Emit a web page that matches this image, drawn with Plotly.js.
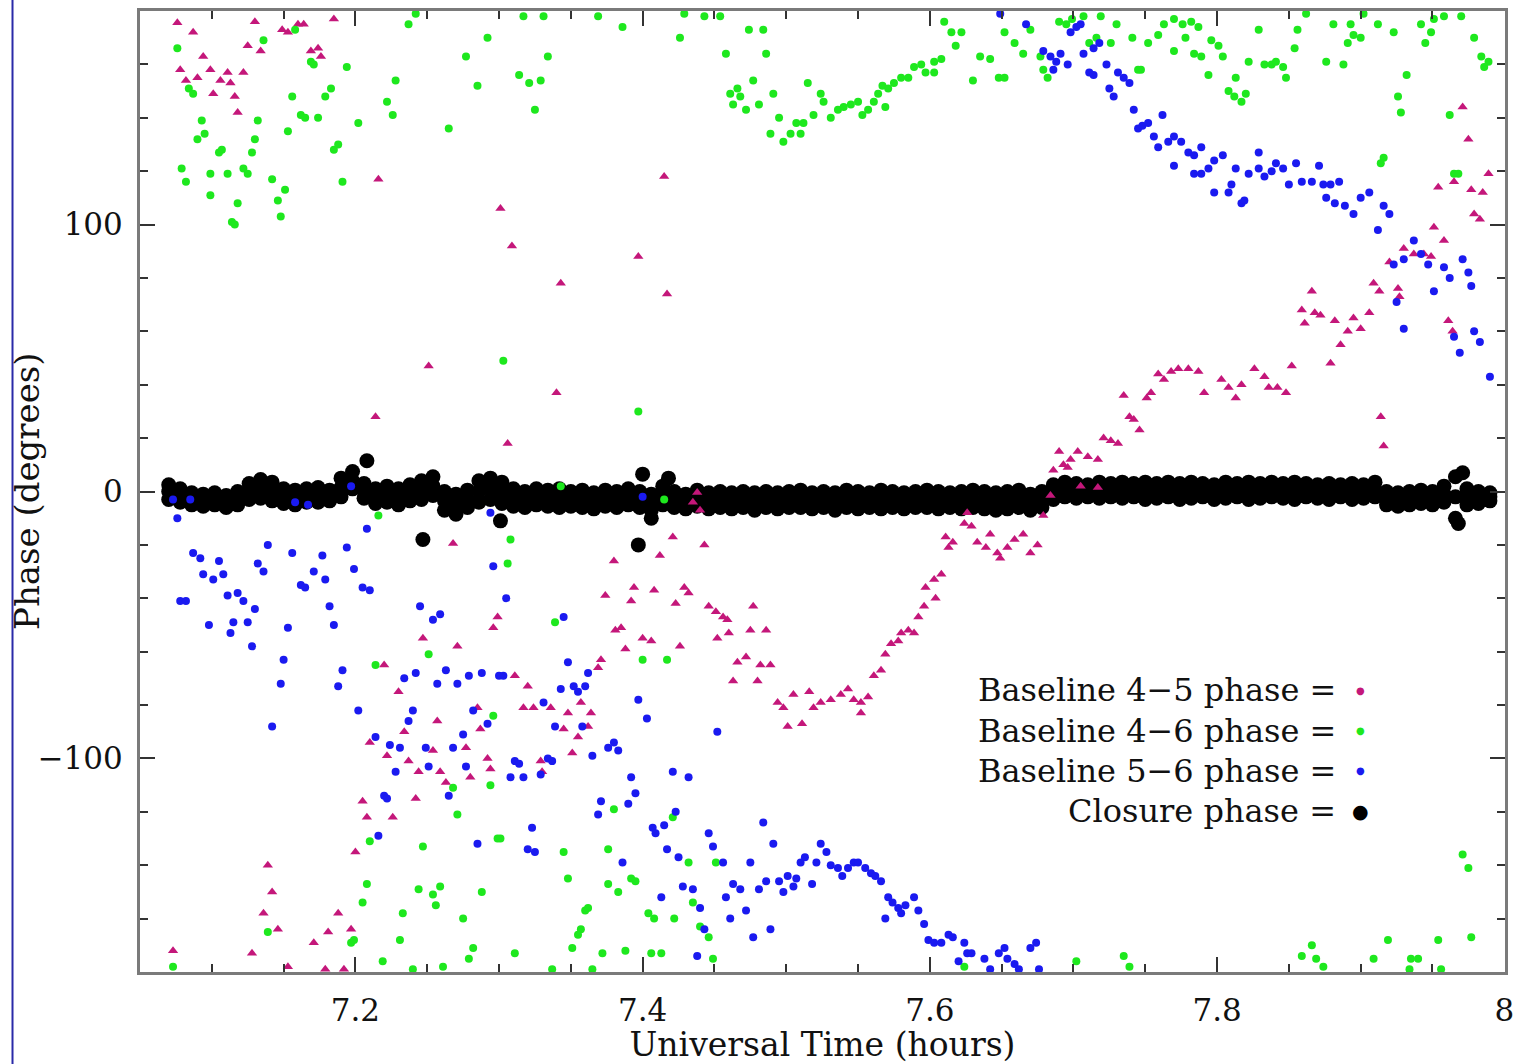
<!DOCTYPE html>
<html>
<head>
<meta charset="utf-8">
<script src="https://cdn.plot.ly/plotly-3.0.1.min.js"></script>
<style>
html,body{margin:0;padding:0;background:#fff;}
#chart{width:1514px;height:1064px;}
</style>
</head>
<body>
<div id="chart"></div>
<script>
// ---- Data (UT hours, phase in degrees) ----
const xTicks = [7.2, 7.4, 7.6, 7.8, 8];
const yTicks = [-100, 0, 100];

const legendLabels = ["Baseline 4\u22125 phase =", "Baseline 4\u22126 phase =", "Baseline 5\u22126 phase =", "Closure phase ="];

// Baseline 4-5 (magenta)
const b45Time = [7.076,7.087,7.130,7.149,7.153,7.160,7.164,7.185,7.078,7.082,7.094,7.099,7.090,7.101,7.106,7.111,7.113,7.116,7.118,7.122,7.125,7.134,7.169,7.174,7.176,7.216,7.301,7.309,7.343,7.397,7.415,7.417,7.251,7.214,7.268,7.299,7.296,7.247,7.271,7.220,7.230,7.285,7.340,7.306,7.438,7.435,7.440,7.421,7.443,7.380,7.412,7.394,7.408,7.374,7.392,7.423,7.429,7.432,7.446,7.451,7.456,7.459,7.477,7.381,7.385,7.400,7.406,7.460,7.452,7.475,7.486,7.388,7.426,7.466,7.472,7.482,7.489,7.463,7.480,7.371,7.311,7.320,7.317,7.324,7.336,7.348,7.357,7.364,7.369,7.345,7.355,7.362,7.351,7.329,7.330,7.501,7.511,7.494,7.498,7.505,7.516,7.519,7.524,7.531,7.538,7.543,7.547,7.552,7.557,7.552,7.561,7.566,7.569,7.573,7.578,7.580,7.585,7.589,7.592,7.596,7.604,7.597,7.603,7.608,7.611,7.616,7.613,7.624,7.629,7.626,7.633,7.639,7.642,7.647,7.649,7.654,7.659,7.665,7.670,7.675,7.679,7.684,7.686,7.690,7.693,7.698,7.696,7.703,7.710,7.717,7.705,7.717,7.721,7.726,7.731,7.735,7.739,7.742,7.746,7.751,7.754,7.759,7.763,7.768,7.773,7.780,7.787,7.791,7.803,7.808,7.813,7.817,7.826,7.833,7.836,7.842,7.848,7.852,7.879,7.914,7.916,7.866,7.859,7.868,7.872,7.882,7.891,7.895,7.900,7.906,7.861,7.886,7.909,7.913,7.920,7.926,7.927,7.930,7.937,7.944,7.949,7.951,7.958,7.954,7.961,7.964,7.971,7.975,7.977,7.985,7.989,7.979,7.983,7.965,7.073,7.128,7.139,7.142,7.136,7.146,7.153,7.171,7.181,7.188,7.197,7.192,7.179,7.200,7.205,7.208,7.226,7.210,7.222,7.234,7.237,7.242,7.244,7.254,7.259,7.263,7.257,7.277,7.280,7.287,7.292,7.294];
const b45Phase = [175.6,172,176,173,172,175,175,177,158,154,163,158,155,149,154,157,153,148,142,157,167,165,165,166,163,117,106,92,78,88,118,74,47,28,-19.5,-47,-51,-55,-58,-65,-75,-81,37,18,-0.4,-4,-7,-17,-20,-26,-24,-36,-37,-39,-41,-42,-36,-38,-43,-45,-47,-48,-43,-52,-51,-55,-56,-53,-55,-52,-52,-59,-58,-64,-62,-65,-65,-71,-71,-63,-69,-73,-81,-81,-81,-83,-79,-83,-66,-89,-92,-88,-98,-101,-105,-88,-87,-79,-81,-76,-75,-81,-79,-78,-76,-74,-78,-79,-77,-83,-69,-67,-61,-57,-56,-53,-52,-53,-47,-43,-40,-36,-33,-31,-17,-19,-21,-12,-13,-8,-19,-21,-16,-23,-25,-21,-18,-16,-23,-20,-9,-1.5,8,15,10,12,9,15,13,12,2,1.5,20,19,18,36,28,27,23,35,37,44,42,45,46,46,45,37,42,39,35,40,46,43,39,39,37,47,48,28,17,75,68,67,66,64,60,65,61,67,63,55,78,75,86,76,73,91,89,89,88,99,94,114,64,60,144,132,113,112,119,104,102,116,-172,-173,-140,-150,-158,-164,-178,-169,-165,-158,-164,-179,-179,-135,-116,-122,-122,-94,-99,-90,-101,-115,-105,-97,-105,-109,-86,-96,-107,-89,-100,-104];

// Baseline 4-6 (green)
const b46Time = [7.076,7.136,7.158,7.169,7.171,7.194,7.237,7.242,7.228,7.222,7.226,7.202,7.277,7.285,7.265,7.292,7.084,7.087,7.093,7.090,7.095,7.105,7.107,7.079,7.082,7.099,7.111,7.099,7.114,7.116,7.118,7.122,7.125,7.128,7.130,7.132,7.142,7.146,7.151,7.148,7.153,7.156,7.162,7.165,7.174,7.179,7.183,7.185,7.188,7.191,7.317,7.331,7.369,7.386,7.314,7.321,7.329,7.334,7.325,7.426,7.429,7.443,7.454,7.458,7.474,7.484,7.486,7.461,7.466,7.468,7.463,7.472,7.477,7.481,7.491,7.495,7.489,7.498,7.503,7.507,7.510,7.512,7.515,7.519,7.524,7.526,7.531,7.536,7.540,7.545,7.550,7.553,7.557,7.561,7.564,7.567,7.571,7.575,7.580,7.585,7.589,7.594,7.597,7.603,7.608,7.603,7.569,7.610,7.615,7.622,7.618,7.630,7.635,7.642,7.648,7.652,7.652,7.659,7.665,7.670,7.677,7.679,7.682,7.690,7.695,7.699,7.707,7.711,7.716,7.719,7.730,7.726,7.741,7.747,7.745,7.752,7.759,7.763,7.770,7.776,7.782,7.787,7.770,7.778,7.784,7.789,7.796,7.801,7.804,7.794,7.808,7.812,7.817,7.820,7.813,7.822,7.829,7.833,7.838,7.841,7.846,7.848,7.854,7.856,7.862,7.876,7.881,7.888,7.893,7.895,7.902,7.912,7.891,7.900,7.923,7.932,7.926,7.928,7.916,7.914,7.942,7.945,7.949,7.951,7.958,7.970,7.962,7.965,7.968,7.979,7.984,7.986,7.989,7.216,7.214,7.251,7.296,7.343,7.397,7.415,7.308,7.306,7.339,7.400,7.417,7.303,7.301,7.345,7.348,7.360,7.362,7.357,7.355,7.351,7.311,7.337,7.365,7.372,7.388,7.406,7.413,7.380,7.376,7.376,7.383,7.392,7.395,7.404,7.408,7.422,7.421,7.432,7.451,7.435,7.440,7.446,7.449,7.624,7.073,7.139,7.197,7.199,7.205,7.208,7.210,7.219,7.231,7.233,7.240,7.244,7.254,7.259,7.256,7.247,7.261,7.271,7.275,7.279,7.282,7.288,7.294,7.299,7.268,7.702,7.735,7.739,7.859,7.866,7.869,7.874,7.909,7.919,7.935,7.940,7.934,7.954,7.956,7.977,7.971,7.975];
const b46Phase = [166,169,173,161,160,159,175,179,154,146,141,138,163,152,136,170,151,149,139,132,134,127,128,121,116,119,119,111,101,100,108,121,119,127,132,139,117,109,113,103,135,148,141,140,140,148,151,128,130,116,178,178,178,174,156,153,154,163,143,170,179,178,178,164,173,173,164,149,151,148,145,143,154,145,149,140,134,131,134,138,134,138,153,141,149,146,140,143,144,145,146,141,143,146,149,152,151,153,155,155,159,160,157,161,162,157,144,176,172,172,167,154,163,162,155,172,155,168,164,173,163,158,155,176,175,177,178,168,170,178,175,168,170,158,158,168,171,175,177,175,176,174,165,170,164,163,169,167,163,156,150,148,146,149,155,161,173,160,160,161,159,155,166,173,179,161,175,160,175,171,179,175,168,170,172,156,148,142,125,123,175,168,172,177,178,178,141,119,119,170,163,159,161,-9,-65,-61,-84,2,30,-3,-18,-27,-49,-63,-63,49,-130,-135,-145,-157,-156,-164,-166,-171,-173,-179,-179,-173,-172,-173,-173,-119,-134,-147,-150,-145,-146,-158,-160,-160,-122,-139,-139,-154,-163,-167,-175,-178,-178,-165,-169,-168,-154,-147,-131,-176,-168,-158,-179,-149,-151,-148,-155,-133,-178,-121,-160,-175,-171,-150,-110,-130,-111,-176,-174,-178,-174,-170,-175,-178,-175,-168,-175,-175,-179,-168,-179,-167,-136,-141];

// Baseline 5-6 (blue)
const b56Time = [7.073,7.076,7.085,7.087,7.092,7.094,7.101,7.105,7.108,7.078,7.082,7.111,7.118,7.122,7.130,7.098,7.115,7.125,7.113,7.128,7.139,7.132,7.136,7.156,7.162,7.165,7.153,7.150,7.148,7.158,7.167,7.171,7.177,7.179,7.182,7.185,7.197,7.194,7.199,7.205,7.210,7.208,7.191,7.188,7.202,7.245,7.254,7.259,7.294,7.296,7.234,7.242,7.257,7.263,7.271,7.279,7.288,7.300,7.240,7.282,7.142,7.214,7.224,7.231,7.228,7.220,7.222,7.216,7.237,7.249,7.251,7.265,7.268,7.275,7.277,7.285,7.292,7.305,7.345,7.348,7.362,7.303,7.343,7.352,7.355,7.360,7.331,7.397,7.400,7.403,7.339,7.358,7.452,7.311,7.314,7.308,7.317,7.329,7.334,7.337,7.365,7.376,7.380,7.383,7.392,7.395,7.390,7.371,7.369,7.421,7.432,7.423,7.415,7.407,7.409,7.323,7.320,7.325,7.386,7.417,7.425,7.413,7.428,7.435,7.440,7.443,7.438,7.446,7.449,7.456,7.458,7.463,7.468,7.461,7.472,7.475,7.477,7.484,7.481,7.486,7.489,7.491,7.495,7.498,7.501,7.505,7.507,7.510,7.513,7.518,7.521,7.524,7.528,7.531,7.536,7.539,7.543,7.547,7.550,7.555,7.559,7.562,7.566,7.571,7.574,7.578,7.580,7.583,7.589,7.592,7.569,7.596,7.599,7.603,7.608,7.613,7.616,7.620,7.624,7.626,7.629,7.638,7.642,7.648,7.652,7.654,7.659,7.662,7.670,7.674,7.676,7.649,7.667,7.679,7.684,7.688,7.691,7.696,7.686,7.698,7.702,7.705,7.707,7.714,7.718,7.711,7.714,7.723,7.725,7.728,7.731,7.735,7.739,7.742,7.745,7.748,7.752,7.762,7.756,7.759,7.766,7.770,7.775,7.780,7.784,7.789,7.770,7.784,7.789,7.794,7.798,7.804,7.798,7.808,7.810,7.813,7.817,7.819,7.822,7.829,7.829,7.833,7.838,7.841,7.846,7.850,7.855,7.859,7.866,7.871,7.874,7.879,7.885,7.876,7.882,7.889,7.895,7.900,7.906,7.912,7.916,7.920,7.937,7.942,7.947,7.951,7.930,7.923,7.925,7.930,7.958,7.962,7.971,7.975,7.977,7.965,7.969,7.979,7.983,7.990];
const b56Phase = [-3,-10,-3,-23,-25,-31,-33,-26,-31,-41,-41,-39,-38,-41,-44,-50,-49,-49,-53,-58,-20,-27,-30,-23,-35,-36,-51,-63,-72,-4,-5,-30,-24,-33,-43,-50,2,-21,-29,-36,-37,-14,-67,-73,-82,-43,-48,-46,-8,-28,-70,-68,-72,-67,-72,-69,-68,-69,-82,-82,-88,-92,-95,-96,-105,-114,-115,-129,-86,-96,-103,-114,-96,-91,-103,-132,-87,-40,-47,-64,-68,-69,-74,-73,-75,-73,-79,-78,-2,-85,-88,-88,-90,-101,-102,-107,-107,-106,-100,-101,-99,-96,-94,-97,-107,-113,-117,-116,-121,-105,-107,-120,-125,-126,-128,-126,-134,-135,-139,-134,-137,-152,-148,-149,-156,-164,-174,-128,-133,-139,-152,-147,-149,-160,-157,-139,-167,-124,-149,-146,-164,-132,-146,-150,-144,-148,-145,-139,-137,-147,-139,-132,-135,-140,-141,-144,-141,-139,-139,-141,-143,-144,-146,-152,-154,-156,-158,-155,-152,-157,-160,-162,-168,-169,-169,-166,-167,-176,-169,-173,-173,-175,-179,-173,-171,-175,-177,-179,-171,-169,-179,179,175,165,163,161,164,160,158,172,174,175,164,166,168,157,156,160,151,148,157,155,153,143,136,137,138,141,133,129,131,133,131,127,126,129,122,119,119,121,124,126,112,112,115,121,108,109,119,121,127,118,120,123,121,115,123,116,116,122,115,115,116,110,108,107,104,110,112,98,107,104,94,89,85,75,87,85,71,61,84,80,87,82,77,58,52,60,56,43];

// Closure phase (black): band samples (upper edge, middle and lower edge of the band) plus isolated points
const closureTime = [7.070,7.078,7.086,7.094,7.102,7.110,7.118,7.126,7.134,7.142,7.150,7.158,7.166,7.174,7.182,7.190,7.198,7.206,7.214,7.222,7.230,7.238,7.246,7.254,7.262,7.270,7.278,7.286,7.294,7.302,7.310,7.318,7.326,7.334,7.342,7.350,7.358,7.366,7.374,7.382,7.390,7.398,7.406,7.414,7.422,7.430,7.438,7.446,7.454,7.462,7.470,7.478,7.486,7.494,7.502,7.510,7.518,7.526,7.534,7.542,7.550,7.558,7.566,7.574,7.582,7.590,7.598,7.606,7.614,7.622,7.630,7.638,7.646,7.654,7.662,7.670,7.678,7.686,7.694,7.702,7.710,7.718,7.726,7.734,7.742,7.750,7.758,7.766,7.774,7.782,7.790,7.798,7.806,7.814,7.822,7.830,7.838,7.846,7.854,7.862,7.870,7.878,7.886,7.894,7.902,7.910,7.918,7.926,7.934,7.942,7.950,7.958,7.966,7.974,7.982,7.990];
const closureUpper = [2.5,1,-0.5,-1,-0.5,-1.5,0,3,4.5,3.5,1,0.5,1,1.5,0.5,5,7.5,3,1,2,1,2.5,4,5.5,0,-1,0.5,4,5,3.5,1,0,1,0.5,1,0,0.5,-0.5,0.5,0,1,0,-1,2,0,-1,0.5,-0.5,0,-0.5,0,-0.5,0,-0.5,0,0.5,-0.5,0,-0.5,0.5,0,-0.5,0.5,0,-0.5,0,0.5,0,-0.5,0,0.5,0,-0.5,0,0.5,-1,0,2.5,3.5,3,2.5,3.5,3,3.5,3,3.5,3,3.5,3,3.5,3,2.5,3.5,3,3.5,3,3.5,3,3.5,3,2.5,3,2.5,3,2.5,3.5,0,-0.5,0,0.5,0,2,5.5,1,0,-0.5];
const closureMiddle = [0,-1.5,-3,-3,-2.5,-4,-2.5,0,1,0,-2,-2.5,-1.5,-1,-1.5,1.5,4,0.5,-2,-1,-2,-0.5,0.5,2,-3.5,-5,-3,0,1,-0.5,-2.5,-3,-2,-2.5,-2.5,-3,-3,-3.5,-2.5,-3,-2,-3,-4,-1.5,-3,-4,-2.5,-3.5,-3,-3.5,-3,-3.5,-3,-3.5,-3,-3,-3.5,-3,-3.5,-3,-3,-3.5,-3,-3,-3.5,-3,-3,-3.5,-3,-3,-3,-3.5,-3.5,-3,-3,-4,-3,0,1,0.5,0,0.5,0.5,0.5,0.5,0.5,0.5,0.5,0,0.5,0.5,0,0.5,0.5,0.5,0,0.5,0.5,0.5,0.5,0,0,0,0.5,0,0.5,-2.5,-3,-2.5,-2,-2.5,-1,-2,-2,-2.5,-2];
const closureLower = [-3,-4,-5,-5.5,-5,-6,-5,-3,-2.5,-3.5,-4.5,-5,-4,-4,-3.5,-2,1,-2.5,-4.5,-4,-5,-3.5,-3,-1.5,-7,-8.5,-6,-4,-3,-4.5,-5.5,-6,-5,-5.5,-6,-5.5,-6,-6.5,-5.5,-6,-5,-6,-7,-5,-6,-6.5,-5.5,-6.5,-6,-6.5,-6,-7,-6,-6.5,-6,-6,-6.5,-6,-7,-6,-6.5,-6,-6.5,-6,-6.5,-6,-6,-6.5,-6,-6.5,-6,-6.5,-7,-6.5,-6,-7,-6,-3,-2,-2.5,-2,-2.5,-2,-2.5,-2,-3,-2.5,-2,-3,-2.5,-2,-3,-2.5,-2,-3,-2.5,-2,-2.5,-3,-2,-2.5,-3,-2,-3,-2.5,-2,-5,-5.5,-5,-4.5,-5,-4,-10,-5,-4.5,-3.5];
const closureExtraTime = [7.208,7.247,7.301,7.397,7.400,7.406,7.418,7.971,7.968];
const closureExtraPhase = [11.5,-18,-11,-20,6.5,-10,5,7,-12];

// ---- Build traces ----
const colMag = "#c4177a", colGreen = "#1ee81e", colBlue = "#1a1af0", colBlack = "#000000";

const traces = [
  {x: closureTime.concat(closureTime, closureTime, closureExtraTime),
   y: closureUpper.concat(closureMiddle, closureLower, closureExtraPhase),
   type: "scatter", mode: "markers", name: "Closure phase",
   marker: {color: colBlack, size: 15}},
  {x: b45Time, y: b45Phase, type: "scatter", mode: "markers", name: "Baseline 4-5",
   marker: {color: colMag, size: 9, symbol: "triangle-up"}},
  {x: b46Time, y: b46Phase, type: "scatter", mode: "markers", name: "Baseline 4-6",
   marker: {color: colGreen, size: 8}},
  {x: b56Time, y: b56Phase, type: "scatter", mode: "markers", name: "Baseline 5-6",
   marker: {color: colBlue, size: 8}}
];

const FONT = "DejaVu Serif, Liberation Serif, serif";
const legendColors = [colMag, colGreen, colBlue, colBlack];
const legendY = [0.2934, 0.2508, 0.2092, 0.1675];
const annotations = [];
legendLabels.forEach((t, i) => {
  annotations.push({xref: "paper", yref: "paper", x: 0.8777, y: legendY[i], xanchor: "right", yanchor: "middle",
    text: t, showarrow: false, font: {family: FONT, size: 32, color: "#111"}});
  annotations.push({xref: "paper", yref: "paper", x: 0.8938, y: legendY[i], xanchor: "center", yanchor: "middle",
    text: "\u25CF", showarrow: false, font: {family: "DejaVu Sans", size: i === 3 ? 19 : 10, color: legendColors[i]}});
});
// y-axis title placed precisely
annotations.push({xref: "paper", yref: "paper", x: -0.0828, y: 0.5005, xanchor: "center", yanchor: "middle",
  textangle: -90, text: "Phase (degrees)", showarrow: false, font: {family: FONT, size: 34, color: "#111"}});

const axisCommon = {
  showgrid: false, zeroline: false, showline: true, linecolor: "#7a7a7a", linewidth: 3,
  mirror: "ticks", ticks: "inside", ticklen: 15, tickwidth: 2, tickcolor: "#333",
  tickfont: {family: FONT, size: 31, color: "#111"}, ticklabeloverflow: "allow"
};

const layout = {
  width: 1514, height: 1064,
  margin: {l: 140, r: 9, t: 11, b: 92},
  paper_bgcolor: "#ffffff", plot_bgcolor: "#ffffff",
  showlegend: false,
  font: {family: FONT, color: "#111"},
  xaxis: Object.assign({}, axisCommon, {
    range: [7.05, 8.0005], tick0: 7.2, dtick: 0.2, ticklabelstandoff: 9,
    minor: {dtick: 0.05, tick0: 7.2, ticks: "inside", ticklen: 8, tickwidth: 2, tickcolor: "#333"},
    title: {text: "Universal Time (hours)", font: {family: FONT, size: 33, color: "#111"}, standoff: 9},
    automargin: false
  }),
  yaxis: Object.assign({}, axisCommon, {
    range: [-180, 180], tick0: 0, dtick: 100, ticklabelstandoff: 8,
    minor: {dtick: 20, tick0: 0, ticks: "inside", ticklen: 8, tickwidth: 2, tickcolor: "#333"},
    automargin: false
  }),
  annotations: annotations,
  shapes: [{type: "line", xref: "paper", yref: "paper", x0: -0.0934, x1: -0.0934, y0: -0.0957, y1: 1.0114,
            line: {color: "#2a2aa8", width: 2}}]
};

Plotly.newPlot("chart", traces, layout, {displayModeBar: false, staticPlot: true});
</script>
</body>
</html>
